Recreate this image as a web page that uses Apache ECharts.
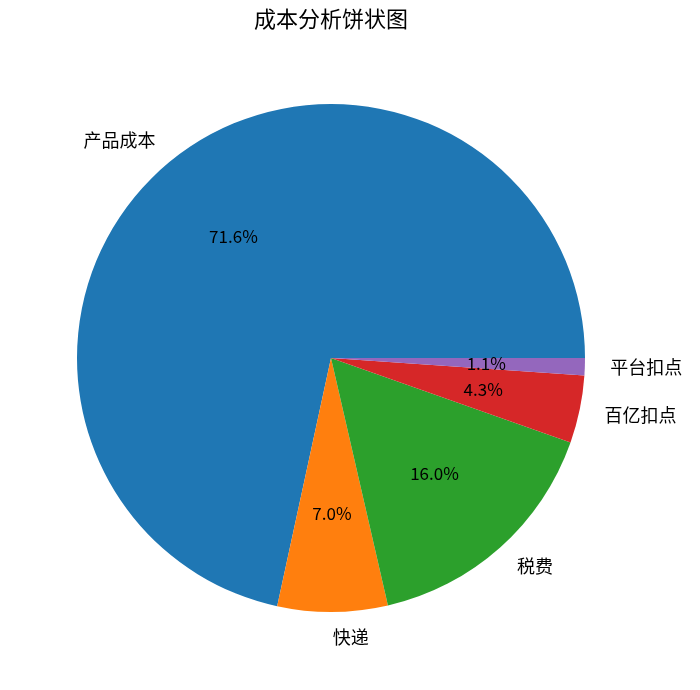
<!DOCTYPE html>
<html>
<head>
<meta charset="utf-8">
<script src="https://cdn.jsdelivr.net/npm/echarts@6/dist/echarts.min.js"></script>
<style>
  html, body { margin: 0; padding: 0; background: #fff; }
  #chart { width: 700px; height: 690px; }
</style>
</head>
<body>
<div id="chart"></div>
<script>
// 成本构成 (百分比)
const categories = ['产品成本', '快递', '税费', '百亿扣点', '平台扣点'];
const values = [71.6, 7.0, 16.0, 4.3, 1.1];
const colors = ['#1f77b4', '#ff7f0e', '#2ca02c', '#d62728', '#9467bd'];

const cx = 331, cy = 358, R = 254;
const font = '"Noto Sans CJK SC", "Noto Sans", sans-serif';

const pieData = categories.map((name, i) => ({name: name, value: values[i]}));

var myChart = echarts.init(document.getElementById('chart'));

var option = {
    animation: false,
    title: {
        text: '成本分析饼状图',
        left: cx,
        top: 8,
        padding: 0,
        textAlign: 'center',
        textStyle: {fontFamily: font, fontSize: 22, fontWeight: 'normal', color: '#000'}
    },
    color: colors,
    series: [
        {
            // 扇区 + 外部名称
            type: 'pie',
            center: [cx, cy],
            radius: R,
            startAngle: 0,
            clockwise: false,
            avoidLabelOverlap: false,
            silent: true,
            data: pieData,
            label: {
                show: true,
                position: 'outside',
                distanceToLabelLine: 0,
                formatter: '{b}',
                fontFamily: font,
                fontSize: 18,
                color: '#000'
            },
            labelLine: {show: false, length: R * 0.1, length2: 0}
        },
        {
            // 百分比标签 (0.6R)
            type: 'pie',
            center: [cx, cy],
            radius: R * 1.2,
            startAngle: 0,
            clockwise: false,
            avoidLabelOverlap: false,
            silent: true,
            z: 3,
            data: pieData,
            itemStyle: {color: 'rgba(0,0,0,0)'},
            label: {
                show: true,
                position: 'inside',
                rotate: 0,
                formatter: p => p.percent.toFixed(1) + '%',
                fontFamily: font,
                fontSize: 17,
                color: '#000'
            },
            labelLine: {show: false}
        }
    ]
};

myChart.setOption(option);
</script>
</body>
</html>
